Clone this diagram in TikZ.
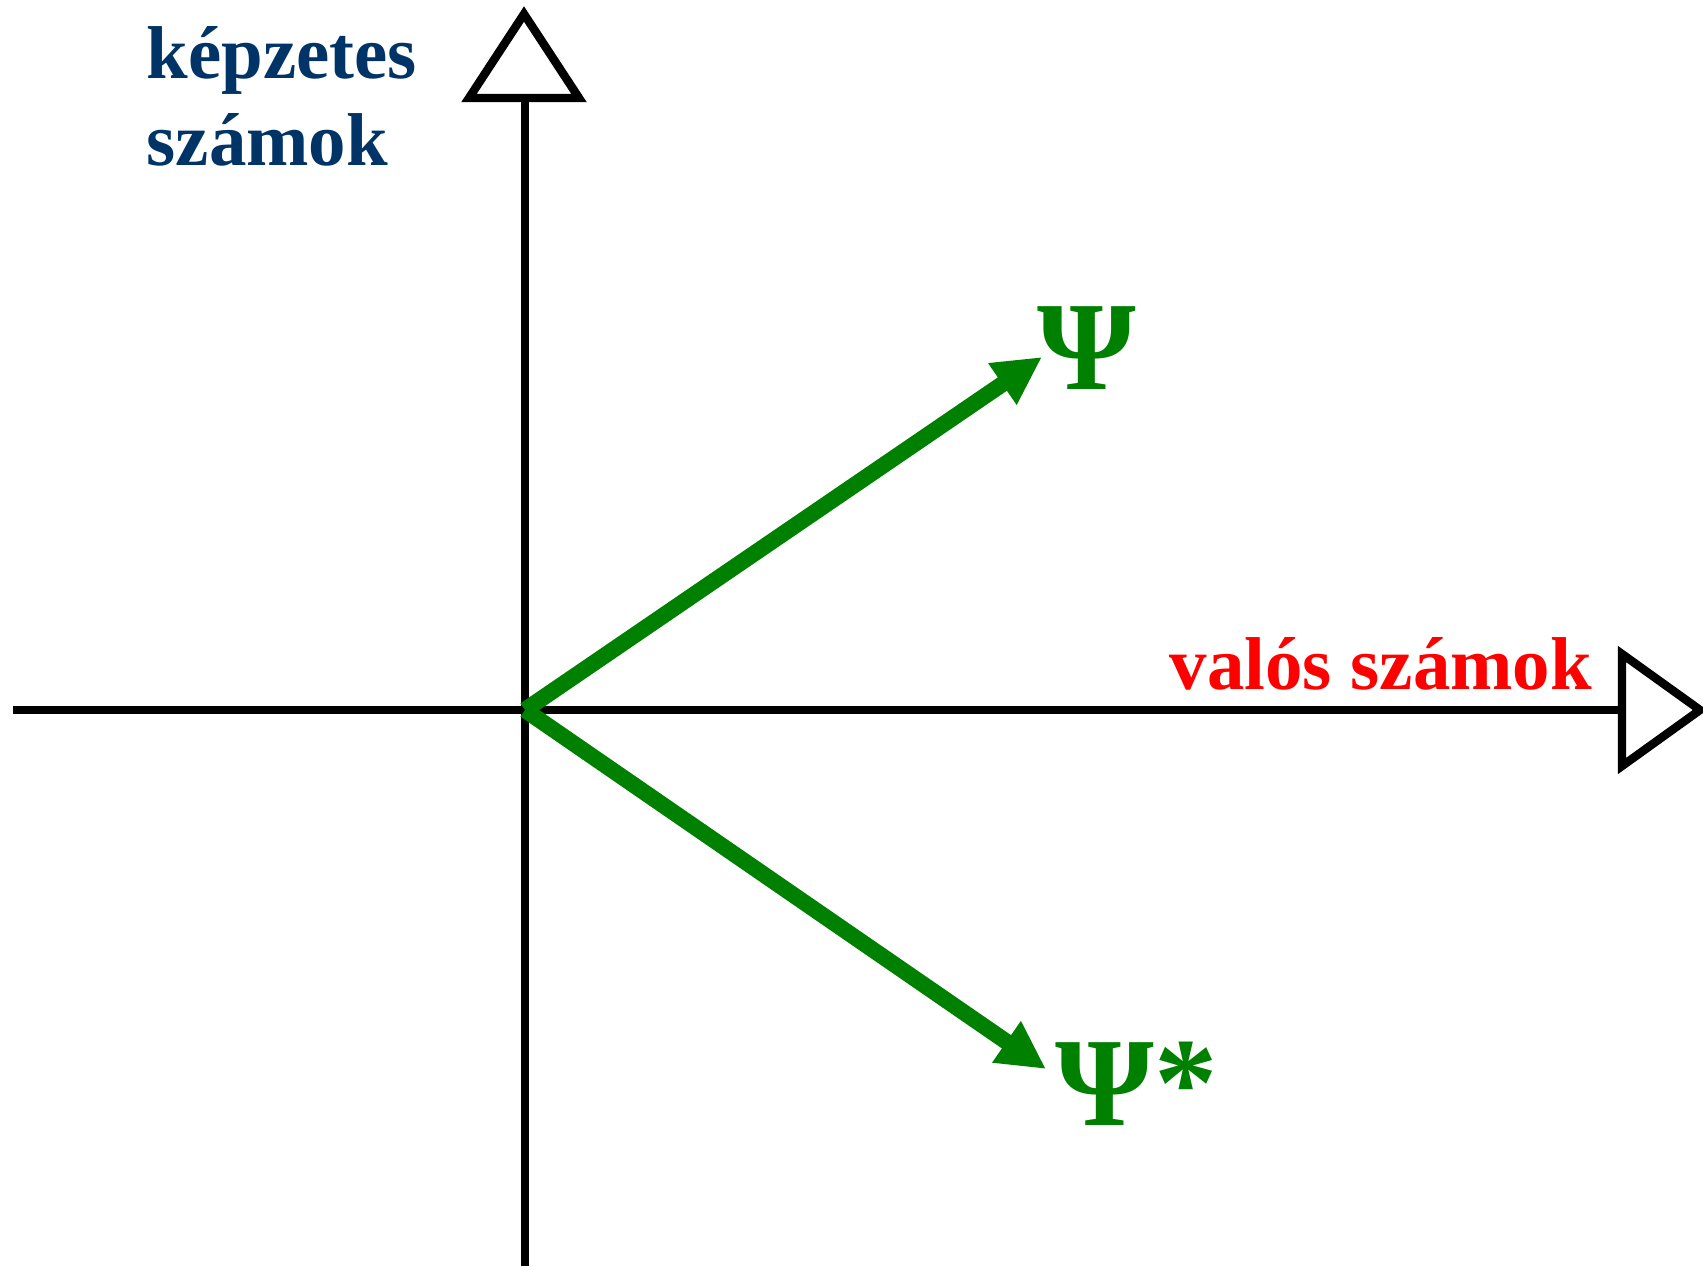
\documentclass[tikz,border=0pt]{standalone}
\usepackage{fontspec}
\setmainfont{Liberation Serif}
\usetikzlibrary{arrows.meta, calc, positioning}

\definecolor{imagblue}{RGB}{0,51,102}
\definecolor{psigreen}{RGB}{0,128,0}

\tikzset{
    axis/.style={line width=2.3pt, black},
    axishead/.style={line width=2.4pt, black, fill=white, line join=miter},
    vec/.style={line width=4.6pt, psigreen, -{Triangle[length=0.48cm, width=0.47cm]}},
    axlabel/.style={inner sep=0pt, font=\bfseries\fontsize{21.3}{24.5}\selectfont},
    psilabel/.style={inner sep=0pt, text=psigreen, font=\bfseries\fontsize{36}{40}\selectfont}
}

\begin{document}
\begin{tikzpicture}
    \useasboundingbox (0,0) rectangle (17.03,12.66);

    % Define the points of the axes
    \coordinate (O) at (5.25,5.56);
    \coordinate (L) at (0.13,5.56);
    \coordinate (D) at (5.25,0);
    \coordinate (R) at (16.22,5.56);
    \coordinate (U) at (5.25,11.68);

    % Define the tips of the two vectors
    \coordinate (P) at (10.42,9.09);
    \coordinate (Q) at (10.46,1.97);

    % Draw the axes
    \draw[axis] (L) -- (R);
    \draw[axis] (D) -- (U);

    % Draw the open heads of the axes
    \draw[axishead] (16.22,6.12) -- (17.00,5.56) -- (16.22,5.00) -- cycle;
    \draw[axishead] (4.69,11.68) -- (5.24,12.52) -- (5.79,11.68) -- cycle;

    % Draw the vectors
    \draw[vec] (O) -- (P);
    \draw[vec] (O) -- (Q);

    % Place the labels
    \node (re) at (11.69,5.77) [axlabel, anchor=base west, text=red] {valós számok};
    \node (im) at (1.46,11.01) [axlabel, anchor=base west, text=imagblue, align=left] {képzetes\\számok};
    \node (psi) at (10.87,8.77) [psilabel, anchor=base] {Ψ};
    \node (psistar) at (10.55,1.41) [psilabel, anchor=base west] {Ψ*};

\end{tikzpicture}
\end{document}
